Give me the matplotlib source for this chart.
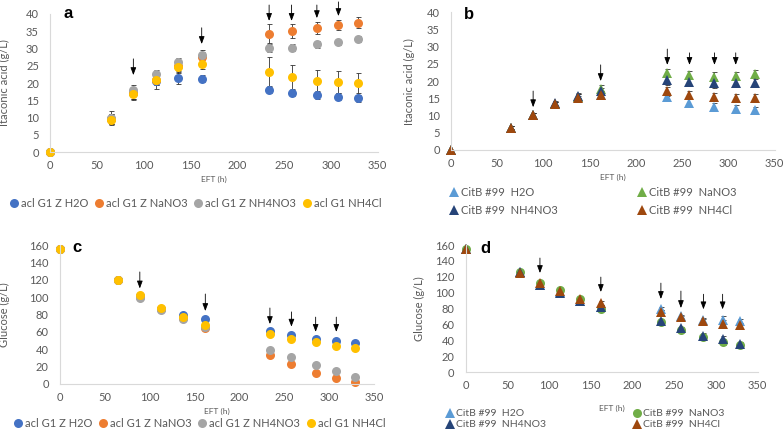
import matplotlib.pyplot as plt

plt.rcParams['font.family'] = ['Lato', 'DejaVu Sans']

# sampling times (h)
eft = [0, 65, 89, 113, 137, 162, 234, 258, 285, 308, 329]

# panel a: itaconic acid, acl G1 strains (g/L)
a_h2o = [0, 9.5, 17.0, 20.5, 21.5, 21.2, 18.0, 17.2, 16.5, 16.0, 15.6]
a_nano3 = [0, 9.5, 17.0, 21.0, 25.0, 27.5, 34.3, 35.0, 36.0, 36.8, 37.5]
a_nh4no3 = [0, 10.0, 18.0, 22.5, 26.0, 28.2, 30.2, 30.2, 31.2, 31.8, 32.8]
a_nh4cl = [0, 9.3, 16.8, 21.0, 24.5, 25.5, 23.2, 21.7, 20.7, 20.3, 20.0]
a_h2o_err = [0, 1.5, 1.5, 2.3, 1.8, 1.0, 1.0, 1.0, 1.0, 1.0, 1.0]
a_nano3_err = [0, 1.5, 1.5, 1.5, 1.5, 1.5, 2.7, 2.0, 1.7, 1.5, 1.5]
a_nh4no3_err = [0, 1.8, 1.5, 1.2, 1.2, 1.5, 1.2, 1.0, 1.0, 0.8, 0.8]
a_nh4cl_err = [0, 1.5, 1.8, 1.5, 1.5, 1.5, 4.3, 3.6, 3.1, 3.2, 3.0]

# panel b: itaconic acid, CitB #99 (g/L)
b_h2o = [0, 6.5, 10.0, 13.3, 15.5, 16.0, 15.3, 13.7, 12.5, 12.0, 11.5]
b_nano3 = [0, 6.5, 10.0, 13.3, 15.5, 17.8, 22.3, 21.8, 21.3, 21.6, 22.1]
b_nh4no3 = [0, 6.5, 10.0, 13.5, 15.8, 17.0, 20.2, 19.8, 19.3, 19.5, 19.5]
b_nh4cl = [0, 6.5, 10.0, 13.2, 15.0, 16.0, 17.0, 16.0, 15.3, 15.2, 15.2]
b_err = [0, 0.5, 0.6, 0.6, 0.8, 1.0, 1.2, 1.2, 1.2, 1.1, 1.1]

# panel c: glucose, acl G1 strains (g/L)
c_h2o = [155, 120, 101, 86, 79, 75, 61, 56, 52, 49, 47]
c_nano3 = [155, 120, 100, 86, 76, 65, 33, 23, 13, 7, 2]
c_nh4no3 = [155, 120, 99, 85, 75, 66, 39, 31, 22, 15, 8]
c_nh4cl = [155, 120, 102, 87, 77, 68, 57, 52, 48, 44, 42]
c_err = [0, 1.5, 1.5, 1.5, 1.5, 1.5, 2, 1.5, 1.5, 1.5, 1.5]

# panel d: glucose, CitB #99 (g/L)
d_h2o = [155, 126, 110, 101, 90, 82, 80, 70, 65, 66, 64]
d_nano3 = [155, 126, 112, 103, 92, 80, 63, 53, 44, 38, 34]
d_nh4no3 = [155, 126, 110, 100, 90, 82, 64, 55, 46, 41, 35]
d_nh4cl = [155, 125, 112, 102, 92, 87, 76, 69, 64, 61, 59]
d_err = [0, 1.5, 1.5, 1.5, 1.5, 2, 2, 2, 3, 4, 3]

# arrows: (x, tail y, head y)
arrows_a = [(89, 27, 22.3), (162, 36, 31.3), (234, 42.6, 38), (258, 42.6, 38), (285, 42.6, 38.8), (308, 43.5, 39.4)]
arrows_b = [(89, 17.1, 12.4), (162, 24.7, 20), (234, 29.3, 24.7), (258, 28.2, 24.7), (285, 28.2, 24.7), (308, 28.2, 24.7)]
arrows_c = [(89, 129, 110), (162, 103.6, 84), (234, 87.5, 69), (258, 83, 66), (285, 77, 60), (308, 77, 60)]
arrows_d = [(89, 143.6, 124.7), (162, 119.6, 100.8), (234, 112, 92), (258, 102, 80.6), (285, 98, 79), (308, 98, 79)]

acl_labels = ['acl G1 Z H2O', 'acl G1 Z NaNO3', 'acl G1 Z NH4NO3', 'acl G1 NH4Cl']
citb_labels = ['CitB #99  H2O', 'CitB #99  NaNO3', 'CitB #99  NH4NO3', 'CitB #99  NH4Cl']
acl_colors = ['#4472C4', '#ED7D31', '#A5A5A5', '#FFC000']
citb_colors = ['#5B9BD5', '#70AD47', '#264478', '#9E480E']

TXT = '#595959'


def style_axes(ax, ymax, ystep, ylabel, letter, letter_xy, ylab_x):
    ax.set_xlim(0, 350)
    ax.set_ylim(0, ymax)
    ax.set_xticks(range(0, 351, 50))
    ax.set_yticks(range(0, ymax + 1, ystep))
    for s in ['top', 'right']:
        ax.spines[s].set_visible(False)
    for s in ['left', 'bottom']:
        ax.spines[s].set_color('#D9D9D9')
    ax.tick_params(length=0, labelsize=8, labelcolor=TXT)
    ax.tick_params(axis='y', pad=8)
    ax.tick_params(axis='x', pad=6)
    ax.set_ylabel(ylabel, fontsize=8, color=TXT)
    ax.yaxis.set_label_coords(ylab_x, 0.5)
    ax.set_xlabel('EFT (h)', fontsize=6, color=TXT, labelpad=3)
    ax.text(letter_xy[0], letter_xy[1], letter, transform=ax.transAxes, fontsize=12,
            fontweight='bold', family='Liberation Sans', va='center', ha='left')


def plot_series(ax, ys, errs, colors, labels, markers, ms):
    handles = []
    for y, e in zip(ys, errs):
        ax.errorbar(eft, y, yerr=e, fmt='none', ecolor='#333333', elinewidth=0.6,
                    capsize=1.8, capthick=0.6, zorder=1, clip_on=False)
    for y, c, lab, m in zip(ys, colors, labels, markers):
        h, = ax.plot(eft, y, linestyle='none', marker=m, color=c, ms=ms,
                     markeredgewidth=0, label=lab, zorder=2, clip_on=False)
        handles.append(h)
    return handles


def draw_arrows(ax, arrows):
    for x, y0, y1 in arrows:
        ax.annotate('', xy=(x, y1), xytext=(x, y0),
                    arrowprops=dict(arrowstyle='-|>,head_length=0.45,head_width=0.17',
                                    color='black', lw=0.6, shrinkA=0, shrinkB=0),
                    annotation_clip=False, zorder=5)


fig = plt.figure(figsize=(7.84, 4.37), dpi=100)

ax_a = fig.add_axes([0.0638, 0.652, 0.418, 0.316])
ax_b = fig.add_axes([0.575, 0.657, 0.413, 0.315])
ax_c = fig.add_axes([0.0765, 0.1213, 0.4005, 0.318])
ax_d = fig.add_axes([0.594, 0.1487, 0.3724, 0.2906])

leg_kw = dict(frameon=False, fontsize=8, handlelength=0.6, handletextpad=0.3,
              labelcolor=TXT)

# a
ha = plot_series(ax_a, [a_h2o, a_nano3, a_nh4no3, a_nh4cl],
                 [a_h2o_err, a_nano3_err, a_nh4no3_err, a_nh4cl_err],
                 acl_colors, acl_labels, ['o'] * 4, 6.5)
style_axes(ax_a, 40, 5, 'Itaconic acid (g/L)', 'a', (0.04, 1.0), -0.122)
draw_arrows(ax_a, arrows_a)
fig.legend(handles=ha, loc='center', bbox_to_anchor=(0.25, 0.535), ncol=4,
           columnspacing=0.7, **leg_kw)

# b
hb = plot_series(ax_b, [b_h2o, b_nano3, b_nh4no3, b_nh4cl], [b_err] * 4,
                 citb_colors, citb_labels, ['^'] * 4, 6.5)
style_axes(ax_b, 40, 5, 'Itaconic acid (g/L)', 'b', (0.04, 0.985), -0.112)
draw_arrows(ax_b, arrows_b)
fig.legend(handles=[hb[0], hb[2]], loc='upper left', bbox_to_anchor=(0.562, 0.595),
           labelspacing=0.6, **leg_kw)
fig.legend(handles=[hb[1], hb[3]], loc='upper left', bbox_to_anchor=(0.802, 0.595),
           labelspacing=0.6, **leg_kw)

# c
hc = plot_series(ax_c, [c_h2o, c_nano3, c_nh4no3, c_nh4cl], [c_err] * 4,
                 acl_colors, acl_labels, ['o'] * 4, 6.5)
style_axes(ax_c, 160, 20, 'Glucose (g/L)', 'c', (0.04, 0.985), -0.158)
draw_arrows(ax_c, arrows_c)
fig.legend(handles=hc, loc='center', bbox_to_anchor=(0.255, 0.032), ncol=4,
           columnspacing=0.7, **leg_kw)

# d
hd = plot_series(ax_d, [d_h2o, d_nano3, d_nh4no3, d_nh4cl], [d_err] * 4,
                 citb_colors, citb_labels, ['^', 'o', '^', '^'], 6.5)
style_axes(ax_d, 160, 20, 'Glucose (g/L)', 'd', (0.05, 0.975), -0.14)
ax_d.xaxis.labelpad = 10
draw_arrows(ax_d, arrows_d)
leg_kw_d = dict(leg_kw, fontsize=7.5)
fig.legend(handles=[hd[0], hd[2]], loc='upper left', bbox_to_anchor=(0.562, 0.078),
           labelspacing=0.15, borderaxespad=0.2, **leg_kw_d)
fig.legend(handles=[hd[1], hd[3]], loc='upper left', bbox_to_anchor=(0.800, 0.078),
           labelspacing=0.15, borderaxespad=0.2, **leg_kw_d)

fig.savefig('out.png', dpi=100)
